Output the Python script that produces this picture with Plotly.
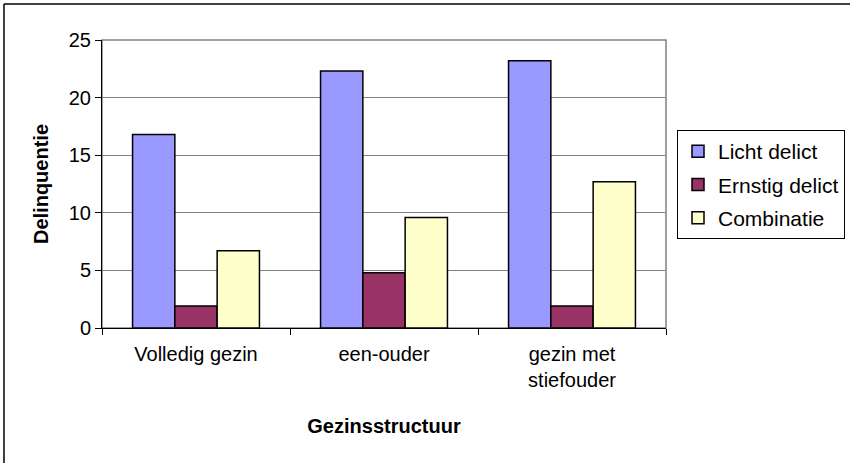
import plotly.graph_objects as go

categories = ["Volledig gezin", "een-ouder", "gezin met<br>stiefouder"]
licht_delict = [16.8, 22.3, 23.2]
ernstig_delict = [1.9, 4.8, 1.9]
combinatie = [6.7, 9.6, 12.7]

series = [
    ("Licht delict", licht_delict, "#9999FF"),
    ("Ernstig delict", ernstig_delict, "#993366"),
    ("Combinatie", combinatie, "#FFFFCC"),
]

fig = go.Figure()
for name, vals, color in series:
    fig.add_trace(go.Bar(
        x=categories, y=vals, name=name, legendgroup=name,
        marker=dict(color=color, line=dict(color="black", width=1.5)),
    ))

font = "Liberation Sans, Arial, sans-serif"

fig.update_layout(
    width=850, height=463,
    margin=dict(l=102, r=184, t=40, b=135),
    paper_bgcolor="white", plot_bgcolor="white",
    barmode="group", bargap=0.325, bargroupgap=0,
    font=dict(family=font, size=20, color="black"),
    showlegend=True,
    legend=dict(
        xref="container", yref="container",
        x=677 / 850, y=1 - 130 / 463, xanchor="left", yanchor="top",
        bordercolor="black", borderwidth=1,
        font=dict(size=21), tracegroupgap=3, itemwidth=30,
    ),
    xaxis=dict(
        showline=True, linecolor="black", linewidth=1,
        ticks="outside", ticklen=6, tickcolor="black", tickson="boundaries",
        showgrid=False, tickfont=dict(size=20), ticklabelstandoff=8,
        title=dict(text="<b>Gezinsstructuur</b>", font=dict(size=20), standoff=28),
    ),
    yaxis=dict(
        range=[0, 25], dtick=5,
        showline=True, linecolor="black", linewidth=1,
        ticks="outside", ticklen=6, tickcolor="black",
        showgrid=True, gridcolor="#808080", gridwidth=1,
        zeroline=False, tickfont=dict(size=20),
        title=dict(text="<b>Delinquentie</b>", font=dict(size=20), standoff=14),
    ),
    shapes=[
        # grey plot-area frame
        dict(type="rect", xref="paper", yref="paper", x0=0, x1=1, y0=0, y1=1,
             line=dict(color="#808080", width=1.5), layer="below"),
        # outer chart frame (top and left)
        dict(type="line", xref="paper", yref="paper", x0=-0.1738, x1=1.33, y0=1.125, y1=1.125,
             line=dict(color="black", width=1.5)),
        dict(type="line", xref="paper", yref="paper", x0=-0.1738, x1=-0.1738, y0=1.125, y1=-0.47,
             line=dict(color="black", width=1.5)),
    ],
)

fig.write_html("out.html", config={"displayModeBar": False},
               post_script="document.body.style.margin='0';")
